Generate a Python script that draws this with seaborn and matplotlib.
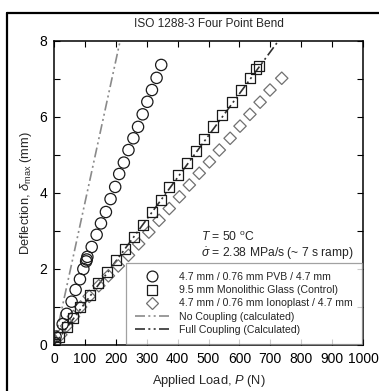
import numpy as np
import pandas as pd
import matplotlib
matplotlib.use("Agg")
import matplotlib.pyplot as plt
from matplotlib.lines import Line2D
import seaborn as sns

# ---- data ----
pvb_load = [3, 5, 28, 41, 57, 70, 84, 95, 104, 106, 108, 122, 138, 152, 168, 183, 198,
            211, 226, 241, 257, 272, 287, 302, 317, 332, 347]
pvb_defl = [0.05, 0.22, 0.55, 0.82, 1.14, 1.45, 1.73, 2.0, 2.2, 2.25, 2.32, 2.58, 2.9, 3.2,
            3.5, 3.84, 4.16, 4.5, 4.8, 5.13, 5.44, 5.74, 6.07, 6.4, 6.71, 7.03, 7.37]

mono_load = [3, 15, 41, 60, 84, 116, 143, 172, 201, 230, 259, 287, 316, 345, 373, 402,
             430, 458, 487, 516, 545, 575, 604, 634, 654, 664]
mono_defl = [0.03, 0.2, 0.48, 0.72, 1.0, 1.32, 1.62, 1.93, 2.24, 2.53, 2.85, 3.17, 3.49,
             3.82, 4.15, 4.47, 4.78, 5.11, 5.43, 5.75, 6.06, 6.39, 6.71, 7.02, 7.26, 7.35]

iono_load = [3, 22, 41, 63, 86, 114, 145, 176, 208, 241, 274, 307, 340, 373, 406, 438,
             470, 503, 535, 570, 602, 634, 667, 699, 737]
iono_defl = [0.02, 0.27, 0.5, 0.75, 1.0, 1.28, 1.56, 1.82, 2.08, 2.36, 2.66, 2.97, 3.28,
             3.59, 3.9, 4.21, 4.52, 4.82, 5.13, 5.44, 5.76, 6.07, 6.39, 6.71, 7.02]

# calculated compliances (mm/N)
no_coupling_slope = 0.0374
full_coupling_slope = 0.01102
calc_load = [0, 1000]

labels = ["4.7 mm / 0.76 mm PVB / 4.7 mm",
          "9.5 mm Monolithic Glass (Control)",
          "4.7 mm / 0.76 mm Ionoplast / 4.7 mm",
          "No Coupling (calculated)",
          "Full Coupling (Calculated)"]

x_ticks = list(range(0, 1001, 100))
y_ticks = list(range(0, 9))

# ---- style ----
sns.set_style("ticks")
plt.rcParams['font.family'] = ['Liberation Sans', 'DejaVu Sans']
plt.rcParams['mathtext.fontset'] = 'custom'
plt.rcParams['mathtext.rm'] = 'Liberation Sans'
plt.rcParams['mathtext.it'] = 'Liberation Sans:italic'
plt.rcParams['mathtext.bf'] = 'Liberation Sans:bold'

fig = plt.figure(figsize=(3.79, 3.91), dpi=100)
ax = fig.add_axes([54/379, 1-345/391, (363-54)/379, (345-41)/391])

dash = (6, 2, 1.2, 2, 1.2, 2)

calc_df = pd.DataFrame({
    "P": calc_load * 2,
    "d": [no_coupling_slope*p for p in calc_load] + [full_coupling_slope*p for p in calc_load],
    "kind": [labels[3]]*2 + [labels[4]]*2,
})
sns.lineplot(data=calc_df[calc_df.kind == labels[3]], x="P", y="d", ax=ax,
             color="#8a8a8a", lw=1.2, legend=False, zorder=2)
sns.lineplot(data=calc_df[calc_df.kind == labels[4]], x="P", y="d", ax=ax,
             color="#303030", lw=1.2, legend=False, zorder=2)
for ln in ax.lines:
    ln.set_dashes(dash)

sns.scatterplot(x=iono_load, y=iono_defl, ax=ax, marker="D", s=40,
                facecolor="none", edgecolor="#707070", linewidth=0.9, zorder=3)
sns.scatterplot(x=mono_load, y=mono_defl, ax=ax, marker="s", s=52,
                facecolor="none", edgecolor="#1a1a1a", linewidth=0.9, zorder=4)
sns.scatterplot(x=pvb_load, y=pvb_defl, ax=ax, marker="o", s=66,
                facecolor="none", edgecolor="#1a1a1a", linewidth=0.9, zorder=5)

ax.set_xlim(0, 1000)
ax.set_ylim(0, 8)
ax.set_xticks(x_ticks)
ax.set_xticklabels([str(t) for t in x_ticks])
ax.set_yticks(y_ticks)
ax.set_yticklabels([str(t) if t % 2 == 0 else "" for t in y_ticks])
ax.tick_params(direction="in", length=4, width=0.8, top=True, right=True,
               labelsize=10, colors="black", pad=5)
for sp in ax.spines.values():
    sp.set_visible(True)
    sp.set_linewidth(1.1)
    sp.set_color("black")

ax.set_xlabel("Applied Load, $P$ (N)", fontsize=9.3, labelpad=5)
ax.set_ylabel(r"Deflection, $\delta_{\rm max}$ (mm)", fontsize=9.3, labelpad=4)
ax.set_title("ISO 1288-3 Four Point Bend", fontsize=8.6, pad=10)

ax.text(476, 2.84, r"$T$ = 50 $^{\rm o}$C", fontsize=8.7, va="center", ha="left")
ax.text(476, 2.40, r"$\dot{\sigma}$ = 2.38 MPa/s (~ 7 s ramp)", fontsize=8.7,
        va="center", ha="left")

handles = [
    Line2D([], [], ls="none", marker="o", ms=7.8, mfc="none", mec="#1a1a1a", mew=0.9),
    Line2D([], [], ls="none", marker="s", ms=7.0, mfc="none", mec="#1a1a1a", mew=0.9),
    Line2D([], [], ls="none", marker="D", ms=6.2, mfc="none", mec="#707070", mew=0.9),
    Line2D([], [], color="#8a8a8a", lw=1.2, dashes=dash),
    Line2D([], [], color="#303030", lw=1.2, dashes=dash),
]
leg = ax.legend(handles, labels, loc="lower right", bbox_to_anchor=(0.997, 0.004),
                fontsize=7.6, frameon=True, fancybox=False, edgecolor="#8a8a8a",
                handlelength=3.3, handletextpad=0.9, labelspacing=0.3,
                borderpad=0.85, borderaxespad=0.0)
leg.get_frame().set_linewidth(0.9)

# figure frame (left and top edges visible)
fig.add_artist(Line2D([7/379, 7/379], [0, 1-13/391], color="black", lw=1.6,
                      transform=fig.transFigure))
fig.add_artist(Line2D([7/379, 1], [1-13/391, 1-13/391], color="black", lw=1.6,
                      transform=fig.transFigure))

fig.savefig("out.png", dpi=100)
